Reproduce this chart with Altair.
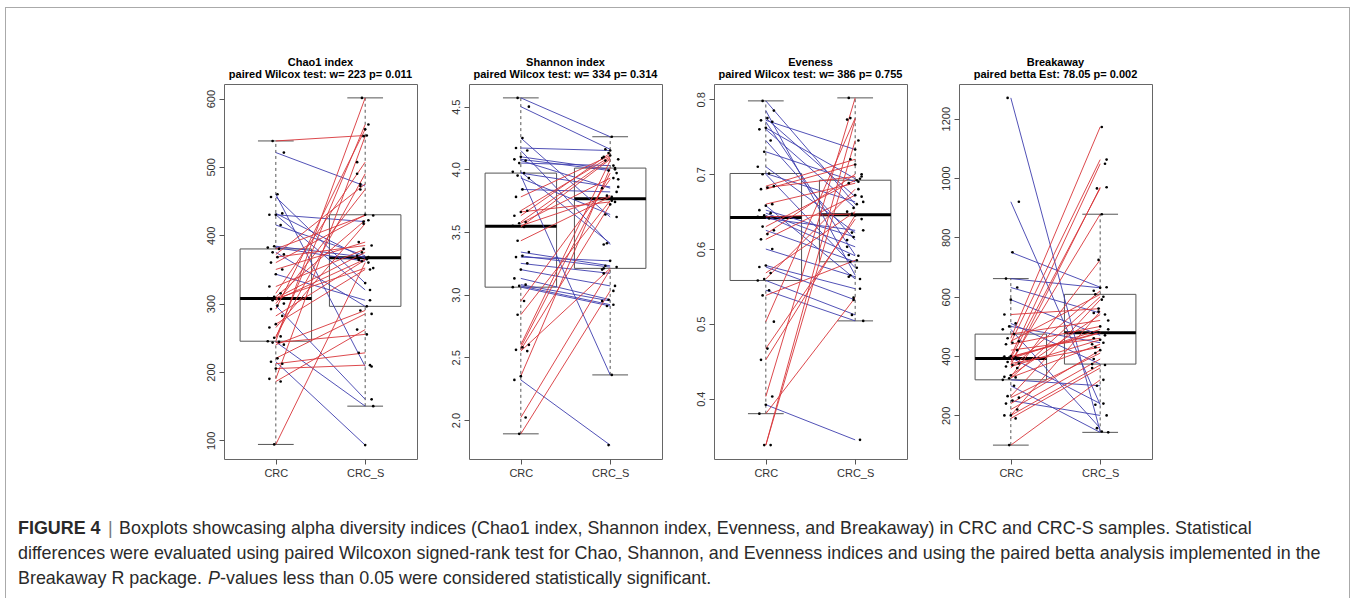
import altair as alt
import numpy as np
import pandas as pd

GROUP_LABELS = ["CRC", "CRC_S"]

# ---- data (paired samples: CRC value, CRC_S value) ----
chao1_crc = [538, 521, 460, 456, 432, 430, 430, 415, 384, 382, 380, 375, 372, 368, 360, 350, 343, 325, 315, 310, 308,
             307, 305, 300, 297, 292, 282, 270, 265, 252, 250, 245, 244, 243, 240, 220, 215, 212, 205, 190, 186, 94]
chao1_crcs = [546, 472, 208, 330, 366, 320, 420, 370, 368, 362, 429, 296, 475, 385, 430, 390, 305, 380, 507, 422, 375,
              352, 365, 467, 160, 555, 364, 350, 417, 490, 562, 601, 150, 255, 290, 285, 93, 228, 210, 545, 262, 360]

shannon_crc = [4.57, 4.50, 4.25, 4.17, 4.15, 4.10, 4.08, 4.07, 4.05, 3.98, 3.97, 3.95, 3.93, 3.84, 3.78, 3.67, 3.66,
               3.63, 3.58, 3.57, 3.55, 3.54, 3.43, 3.34, 3.31, 3.30, 3.25, 3.20, 3.13, 3.08, 3.07, 3.06, 2.95, 2.84,
               2.60, 2.58, 2.56, 2.55, 2.35, 2.32, 2.02, 1.89]
shannon_crcs = [4.26, 4.16, 3.62, 4.15, 3.40, 4.00, 3.99, 3.85, 4.03, 3.41, 3.86, 2.36, 3.64, 3.82, 4.11, 4.10, 3.74,
                4.13, 4.09, 3.93, 3.79, 4.08, 3.78, 3.23, 3.22, 3.27, 3.17, 3.07, 2.96, 2.95, 2.92, 2.91, 3.92, 3.75,
                4.07, 3.97, 3.72, 3.21, 4.01, 1.80, 3.20, 3.03]

even_crc = [0.798, 0.785, 0.775, 0.772, 0.770, 0.762, 0.760, 0.745, 0.730, 0.710, 0.701, 0.700, 0.684, 0.682, 0.680,
            0.660, 0.658, 0.652, 0.648, 0.645, 0.643, 0.641, 0.630, 0.625, 0.620, 0.613, 0.600, 0.578, 0.576, 0.568,
            0.560, 0.558, 0.545, 0.538, 0.503, 0.467, 0.452, 0.403, 0.392, 0.380, 0.338, 0.338]
even_crcs = [0.660, 0.565, 0.670, 0.733, 0.592, 0.694, 0.655, 0.612, 0.690, 0.622, 0.663, 0.575, 0.720, 0.697, 0.713,
             0.688, 0.560, 0.616, 0.603, 0.591, 0.647, 0.625, 0.692, 0.583, 0.700, 0.672, 0.563, 0.547, 0.532, 0.650,
             0.680, 0.512, 0.504, 0.585, 0.775, 0.640, 0.645, 0.802, 0.345, 0.535, 0.773, 0.745]

brk_crc = [1270, 920, 750, 661, 631, 590, 540, 510, 500, 490, 474, 460, 450, 445, 440, 420, 400, 398, 396, 395, 393,
           391, 380, 375, 370, 365, 360, 335, 330, 328, 325, 320, 300, 265, 260, 250, 240, 220, 200, 200, 190, 100]
brk_crcs = [146, 236, 632, 630, 545, 470, 560, 373, 445, 157, 520, 1172, 608, 1062, 500, 460, 1048, 480, 478, 240, 965,
            490, 878, 430, 969, 455, 620, 540, 724, 440, 600, 300, 143, 590, 410, 200, 420, 390, 370, 550, 360, 320]

titles = [
    ["Chao1 index", "paired Wilcox test: w= 223 p= 0.011"],
    ["Shannon index", "paired Wilcox test: w= 334 p= 0.314"],
    ["Eveness", "paired Wilcox test: w= 386 p= 0.755"],
    ["Breakaway", "paired betta Est:  78.05 p= 0.002"],
]
y_ticks = [[100, 200, 300, 400, 500, 600], [2.0, 2.5, 3.0, 3.5, 4.0, 4.5],
           [0.4, 0.5, 0.6, 0.7, 0.8], [200, 400, 600, 800, 1000, 1200]]
y_formats = ["d", ".1f", ".1f", "d"]

caption_l1a = "FIGURE 4"
caption_l1bar = "|"
caption_l1b = "Boxplots showcasing alpha diversity indices (Chao1 index, Shannon index, Evenness, and Breakaway) in CRC and CRC-S samples. Statistical"
caption_l2 = "differences were evaluated using paired Wilcoxon signed-rank test for Chao, Shannon, and Evenness indices and using the paired betta analysis implemented in the"
caption_l3a = "Breakaway R package."
caption_l3b = "P"
caption_l3c = "-values less than 0.05 were considered statistically significant."

RED = "#d8353a"
BLUE = "#3e3eae"
FONT = "Liberation Sans"
W, H = 193, 375
SPACING = 52
PLOT_LEFT, PLOT_TOP = 223, 83
# the caption/frame layer sits as a 1x1 view to the right of the last panel
CAP_LEFT = PLOT_LEFT + 4 * (W + SPACING)
CAP_TOP = PLOT_TOP


def fivenum(vals):
    x = np.sort(np.asarray(vals, float))
    n = len(x)
    n4 = np.floor((n + 3) / 2) / 2
    d = np.array([1, n4, (n + 1) / 2, n + 1 - n4, n]) - 1
    return 0.5 * (x[np.floor(d).astype(int)] + x[np.ceil(d).astype(int)])


def box_stats(vals, g):
    f = fivenum(vals)
    q1, med, q3 = f[1], f[2], f[3]
    iqr = q3 - q1
    inside = [v for v in vals if q1 - 1.5 * iqr <= v <= q3 + 1.5 * iqr]
    return dict(grp=g, left=g - 0.4, right=g + 0.4, cl=g - 0.2, cr=g + 0.2,
                q1=q1, med=med, q3=q3, lo=min(inside), hi=max(inside))


def make_panel(k, a, b):
    n = len(a)
    pts = pd.DataFrame({"i": list(range(n)) * 2, "grp": [1] * n + [2] * n, "v": list(a) + list(b)})
    pairs = pd.DataFrame({"x1": [1] * n, "x2": [2] * n, "v1": a, "v2": b,
                          "dir": ["up" if bb > aa else "down" for aa, bb in zip(a, b)]})
    stats = pd.DataFrame([box_stats(a, 1), box_stats(b, 2)])
    allv = list(a) + list(b)
    lo, hi = min(allv), max(allv)
    ext = 0.04 * (hi - lo)
    xs = alt.Scale(domain=[0.42, 2.58], nice=False, zero=False)
    ys = alt.Scale(domain=[lo - ext, hi + ext], nice=False, zero=False)
    xax = alt.Axis(values=[1, 2], labelExpr="datum.value == 1 ? '%s' : '%s'" % tuple(GROUP_LABELS),
                   grid=False, domain=False, ticks=True, tickSize=5, tickColor="#555", title=None,
                   labelPadding=3, labelFont=FONT, labelFontSize=11, labelColor="#333")
    yax = alt.Axis(values=y_ticks[k], format=y_formats[k], labelAngle=270, labelAlign="center",
                   labelBaseline="bottom", grid=False, domain=False, tickSize=5, tickColor="#555",
                   title=None, labelPadding=3, labelFont=FONT, labelFontSize=11, labelColor="#333")

    def X(f):
        return alt.X(f, type="quantitative", scale=xs, axis=xax)

    def Y(f):
        return alt.Y(f, type="quantitative", scale=ys, axis=yax)

    sb = alt.Chart(stats)
    box = sb.mark_rect(fill="white", fillOpacity=0, stroke="#555", strokeWidth=1).encode(
        x=X("left"), x2="right", y=Y("q1"), y2="q3")
    wh_up = sb.mark_rule(color="#555", strokeDash=[3, 3], strokeWidth=1).encode(x=X("grp"), y=Y("q3"), y2="hi")
    wh_lo = sb.mark_rule(color="#555", strokeDash=[3, 3], strokeWidth=1).encode(x=X("grp"), y=Y("lo"), y2="q1")
    cap_hi = sb.mark_rule(color="#555", strokeWidth=1).encode(x=X("cl"), x2="cr", y=Y("hi"))
    cap_lo = sb.mark_rule(color="#555", strokeWidth=1).encode(x=X("cl"), x2="cr", y=Y("lo"))
    med = sb.mark_rule(color="black", strokeWidth=3).encode(x=X("left"), x2="right", y=Y("med"))
    lines = alt.Chart(pairs).mark_rule(strokeWidth=1, opacity=0.9).encode(
        x=X("x1"), x2="x2", y=Y("v1"), y2="v2",
        color=alt.Color("dir:N", scale=alt.Scale(domain=["up", "down"], range=[RED, BLUE]), legend=None))
    points = alt.Chart(pts).transform_calculate(
        px="datum.grp + ((((datum.i * 7) + datum.grp * 3) % 11) - 5) * 0.018"
    ).mark_circle(size=7, color="black", opacity=1).encode(x=X("px"), y=Y("v"))

    return alt.layer(box, wh_up, wh_lo, cap_hi, cap_lo, med, lines, points).properties(
        width=W, height=H,
        title=alt.Title(text=titles[k], font=FONT, fontSize=11, fontWeight="bold", color="black",
                        anchor="middle", offset=4, lineHeight=12))


def cap(txt, x, y, **kw):
    style = dict(align="left", baseline="middle", font=FONT, fontSize=17.9, color="#2a2a2a")
    style.update(kw)
    return alt.Chart(pd.DataFrame({"t": [txt]})).mark_text(**style).encode(
        x=alt.value(x - CAP_LEFT), y=alt.value(y - CAP_TOP), text="t:N")


def edge(x1, x2, y1, y2):
    return alt.Chart(pd.DataFrame({"t": [""]})).mark_rule(color="#aaaaaa", strokeWidth=1).encode(
        x=alt.value(x1 - CAP_LEFT), x2=alt.value(x2 - CAP_LEFT),
        y=alt.value(y1 - CAP_TOP), y2=alt.value(y2 - CAP_TOP))


caption = alt.layer(
    edge(4, 1348, 6.5, 6.5),
    edge(4.5, 4.5, 6, 598),
    edge(1348.5, 1348.5, 6, 598),
    cap(caption_l1a, 17, 528, fontWeight="bold"),
    cap(caption_l1bar, 107, 528, color="#777"),
    cap(caption_l1b, 118, 528),
    cap(caption_l2, 17, 553),
    cap(caption_l3a, 17, 578),
    cap(caption_l3b, 207, 578, fontStyle="italic"),
    cap(caption_l3c, 219, 578),
).properties(width=1, height=1, view=alt.ViewBackground(stroke="transparent"))

panels = [
    make_panel(0, chao1_crc, chao1_crcs),
    make_panel(1, shannon_crc, shannon_crcs),
    make_panel(2, even_crc, even_crcs),
    make_panel(3, brk_crc, brk_crcs),
]

chart = alt.hconcat(*panels, caption, spacing=SPACING, bounds="flush").properties(
    padding={"left": 4, "top": 6, "right": 0, "bottom": 0}, background="white"
).configure_view(stroke="#666", strokeWidth=1)

chart.save("out.html", embed_options={"renderer": "svg", "actions": False})
